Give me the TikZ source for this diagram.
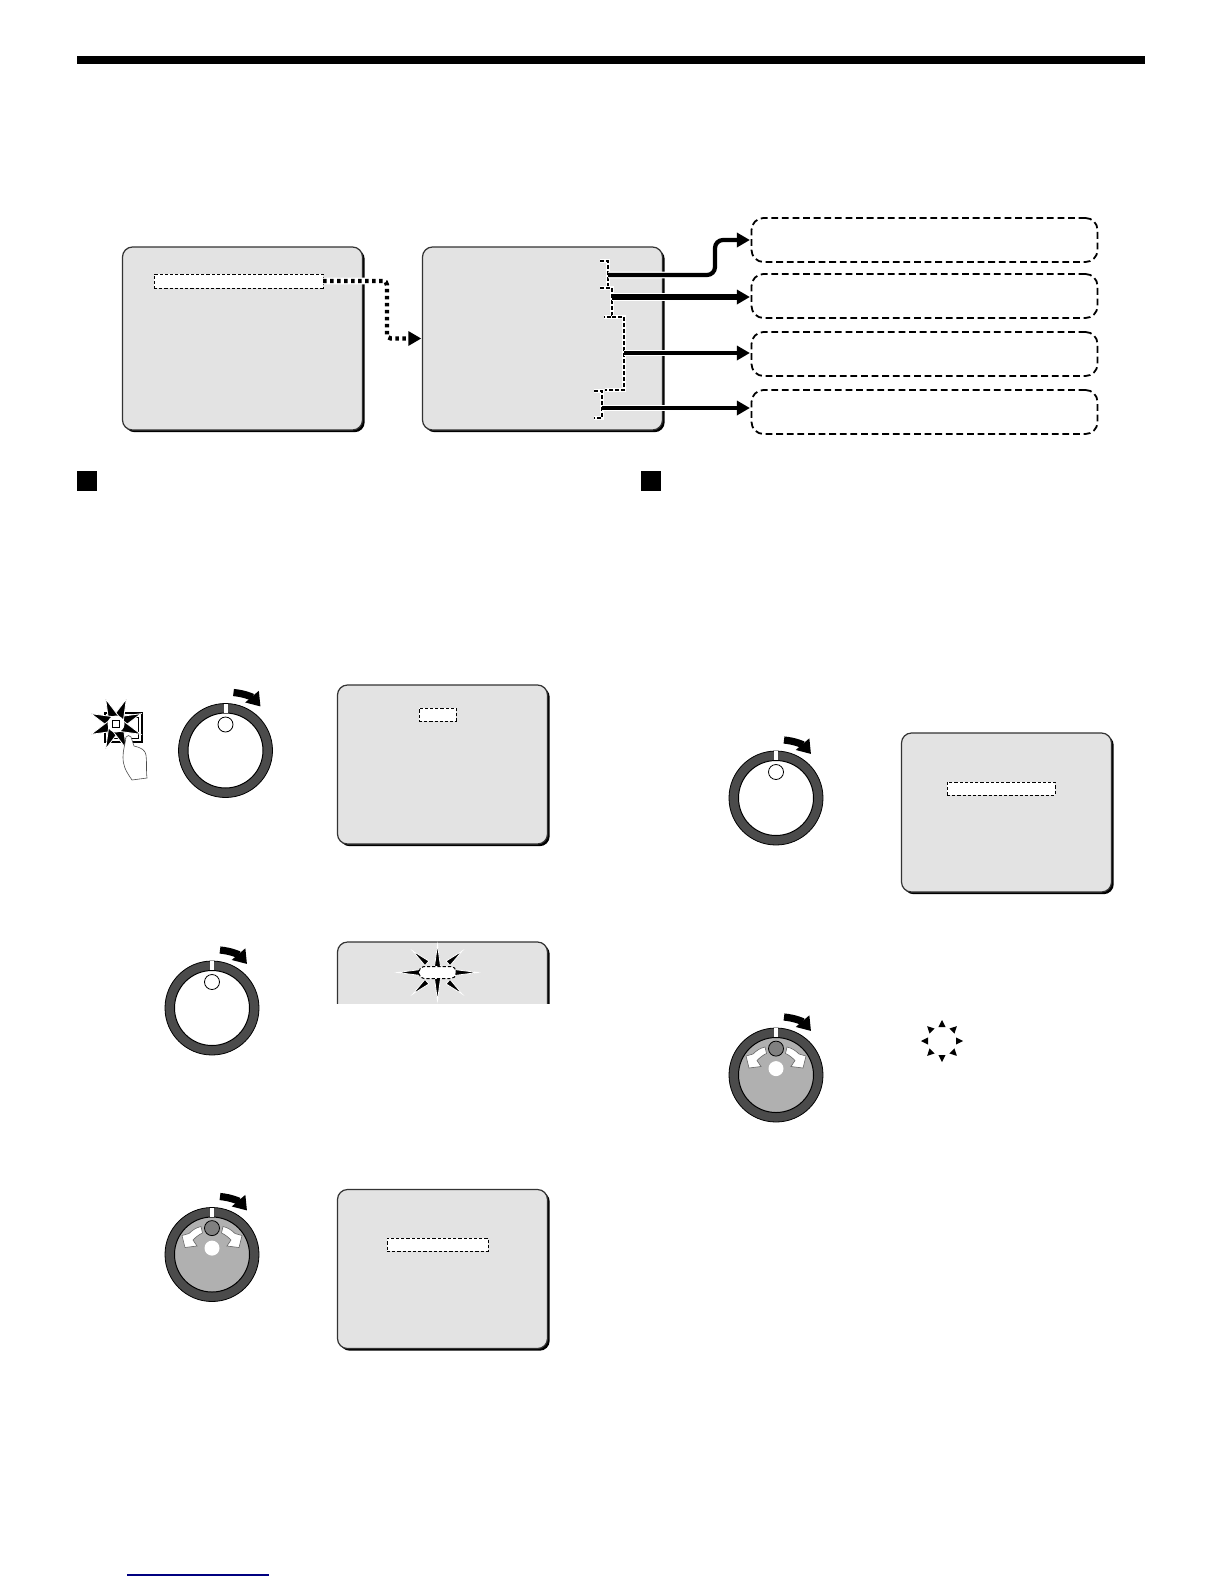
\documentclass[tikz,border=0pt]{standalone}
\usetikzlibrary{arrows.meta,shadows}
\definecolor{panelgray}{HTML}{E3E3E3}
\definecolor{ringgray}{HTML}{4B4B4B}
\definecolor{knobgray}{HTML}{B0B0B0}
\definecolor{dotgray}{HTML}{808080}
\definecolor{linkblue}{HTML}{000080}
\tikzset{
  panel/.style={draw=black!80,fill=panelgray,line width=.6pt,rounded corners=5pt,inner sep=0pt,outer sep=0pt,
    drop shadow={shadow xshift=1.1pt,shadow yshift=-1.1pt,fill=black,opacity=1}},
  smallpanel/.style={panel,minimum width=105pt,minimum height=79.5pt},
  hilite/.style={draw=black,fill=white,line width=.5pt,dash pattern=on 1.6pt off 1pt,inner sep=0pt,outer sep=0pt},
  option/.style={draw=black,fill=white,line width=.9pt,dash pattern=on 3.4pt off 1.9pt,rounded corners=6pt,
    minimum width=173pt,minimum height=22pt,inner sep=0pt,outer sep=0pt},
  marker/.style={fill=black,minimum size=10pt,inner sep=0pt},
  link/.style={line width=#1,-{Triangle[length=6.5pt,width=7pt]},shorten >=.8pt,rounded corners=4pt,
    preaction={draw=white,line width=#1+1.2pt,-,shorten >=3pt}},
  hop/.style={line width=2.2pt,dash pattern=on 1.8pt off 1.7pt,-{Triangle[length=6.5pt,width=7pt]},rounded corners=2pt,
    shorten >=.6pt,preaction={draw=white,line width=3.4pt,solid,-,shorten >=3pt}},
  bracket/.style={line width=1pt,dash pattern=on 2pt off 1pt,preaction={draw=white,line width=2.4pt,solid}},
  ring/.style={circle,draw=black,fill=ringgray,line width=.4pt,minimum size=47pt,inner sep=0pt},
  face/.style={circle,draw=black,line width=.5pt,minimum size=37.5pt,inner sep=0pt},
  dot/.style={circle,minimum size=7.5pt,inner sep=0pt,line width=.4pt},
  spike/.style={fill=black,draw=white,line width=.4pt},
}
\newcommand{\jogdial}[3]{
  \node[ring] (#1)at(#2) {};
  \node[face,fill=#3] (#1F)at(#1) {};
  \begin{scope}[shift={(#1)}]
    \fill[white] (-2,-47) rectangle (2,-38);
    \draw[line width=3.6pt,-{Triangle[length=6.5pt,width=8.5pt]}] (8,-58) to[bend left=22] (35,-44);
  \end{scope}
}
\newcommand{\plaindial}[2]{
  \jogdial{#1}{#2}{white}
  \node[dot,draw=black,fill=white] (#1D)at([yshift=13pt]#1) {};
}
\newcommand{\knobdial}[2]{
  \jogdial{#1}{#2}{knobgray}
  \node[dot,draw=black,fill=dotgray] (#1D)at([yshift=13.2pt]#1) {};
  \node[dot,fill=white] (#1W)at([yshift=3.2pt]#1) {};
  \begin{scope}[shift={(#1)}]
    \foreach \side in {1,-1}
      \filldraw[xscale=\side,fill=white,draw=black!60,line width=.3pt] (-11,-28) .. controls (-16,-27) and (-20,-24) .. (-23,-21)
        -- (-30,-19) -- (-27,-7) -- (-15,-8.5) -- (-19,-14.5) .. controls (-16,-17.5) and (-13,-20) .. (-9.5,-21.5) -- cycle;
  \end{scope}
}
\begin{document}
\begin{tikzpicture}[x=.5pt,y=-.5pt]
\useasboundingbox (0,0) rectangle (1224,1584);
\fill[black] (77,56) rectangle (1145,64);
\draw[linkblue,line width=.6pt] (127,1575) -- (269,1575);

\node[panel,minimum width=120pt,minimum height=91.5pt] (S1)at(242.5,338.5) {};
\node[panel,minimum width=120pt,minimum height=91.5pt] (S2)at(542.5,338.5) {};
\node[hilite,minimum width=84.5pt,minimum height=7pt] (H1)at(238.5,281) {};
\node[option] (O1)at(924.5,240) {};
\node[option] (O2)at(924.5,296) {};
\node[option] (O3)at(924.5,354) {};
\node[option] (O4)at(924.5,412) {};

\node[marker] (M1)at(87,480.5) {};
\node[marker] (M2)at(651,480.5) {};

\coordinate (KA)at(608,275);
\coordinate (KB)at(612,297);
\coordinate (KC)at(624,353);
\coordinate (KD)at(602,408);
\coordinate (BA)at(715,0);
\coordinate (BH)at(387,0);

\draw[bracket] (600,261) -- (608,261) -- (608,287);
\draw[bracket] (600,288) -- (612,288) -- (612,317) -- (604,317);
\draw[bracket] (612,317) -- (624,317) -- (624,390) -- (605,390);
\draw[bracket] (594,391) -- (602,391) -- (602,418) -- (594,418);

\draw[hop] (H1.east) -- (BH |- H1.east) -- (BH |- S2.west) -- (S2.west);
\draw[link=2.1pt] (KA) -- (BA |- KA) -- (BA |- O1.west) -- (O1.west);
\draw[link=2.7pt] (KB) -- (O2.west |- KB);
\draw[link=2.1pt] (KC) -- (O3.west |- KC);
\draw[link=2.1pt] (KD) -- (O4.west |- KD);

\node[smallpanel] (S3)at(442.5,764.5) {};
\node[hilite,minimum width=18.5pt,minimum height=6.5pt] (H3)at(437.5,714.5) {};
\begin{scope}
\clip (330,930) rectangle (560,1003);
\node[smallpanel] (S4)at(442.5,1021.5) {};
\end{scope}
\node[smallpanel] (S5)at(442.5,1269) {};
\node[hilite,minimum width=50.5pt,minimum height=6.5pt] (H5)at(437.5,1244.5) {};
\node[smallpanel] (S6)at(1006.5,812.5) {};
\node[hilite,minimum width=54pt,minimum height=6.5pt] (H6)at(1001,788.5) {};

\coordinate (G4)at(437.5,972.5);
\foreach \ang/\rin/\rout in {0/17/40,41/14/33,90/6/28,139/14/33,180/17/40,221/14/33,270/6/28,319/14/33}
  \filldraw[spike,shift={(G4)},rotate=\ang] (\rin,3) -- (\rout,0) -- (\rin,-3) -- cycle;
\node[hilite,rounded corners=2.5pt,minimum width=18.5pt,minimum height=6pt] (H4)at(G4) {};

\coordinate (G6)at(942,1041);
\foreach \ang in {0,45,...,315}
  \fill[black,shift={(G6)},rotate=\ang] (14,3.6) -- (21,0) -- (14,-3.6) -- cycle;

\draw[black,line width=1.3pt,fill=white] (105,713) rectangle (142,742);
\draw[black,line width=.4pt] (109,717) rectangle (138,738);
\coordinate (G1)at(116,724);
\foreach \ang in {22.5,67.5,...,337.5}
  \filldraw[spike,shift={(G1)},rotate=\ang] (6,5.5) -- (27,0) -- (6,-5.5) -- cycle;
\node[circle,fill=white,minimum size=8.5pt,inner sep=0pt] (B1)at(G1) {};
\node[draw=black,line width=.5pt,fill=white,minimum size=3.5pt,inner sep=0pt] (B2)at(G1) {};
\filldraw[fill=white,draw=black!70,line width=.3pt] (126,737) .. controls (125,745) and (123,750) .. (123,757)
  .. controls (123,765) and (125,770) .. (132,780) -- (147,778) .. controls (146,770) and (147,762) .. (146,755)
  .. controls (145,750) and (142,748) .. (134,746) -- (131,737) .. controls (130,735) and (127,735) .. (126,737) -- cycle;

\plaindial{D1}{225.5,750.5}
\plaindial{D2}{212,1008}
\knobdial{D3}{212,1254.5}
\plaindial{D4}{776,798}
\knobdial{D5}{776,1075}
\end{tikzpicture}
\end{document}
